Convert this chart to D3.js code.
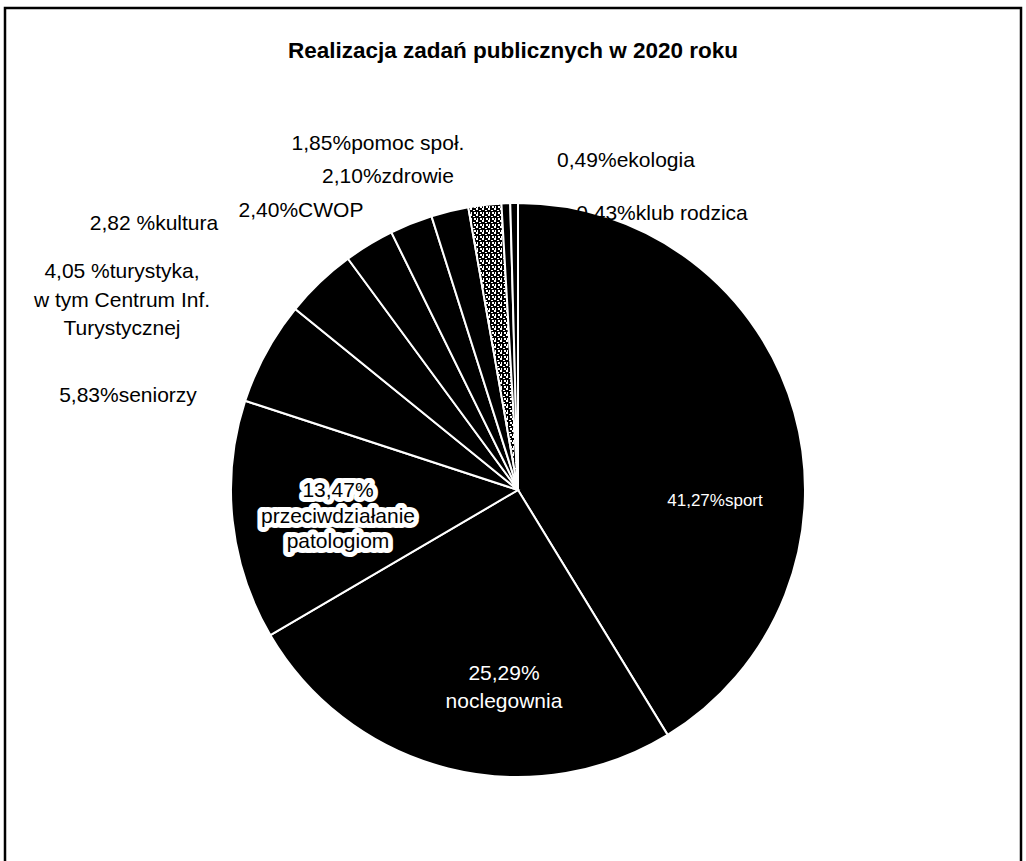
<!DOCTYPE html>
<html><head><meta charset="utf-8">
<script src="https://cdn.jsdelivr.net/npm/d3@7"></script>
<style>body{margin:0;background:#fff}svg{display:block}</style>
</head><body>
<svg id="c" width="1026" height="861"></svg>
<script>
const title = "Realizacja zadań publicznych w 2020 roku";
const categories = ["sport","noclegownia","przeciwdziałanie patologiom","seniorzy","turystyka, w tym Centrum Inf. Turystycznej","kultura","CWOP","zdrowie","pomoc społ.","ekologia","klub rodzica"];
const values = [41.27,25.29,13.47,5.83,4.05,2.82,2.40,2.10,1.85,0.49,0.43];
const labelLines = [
  ["41,27%sport"],
  ["25,29%","noclegownia"],
  ["13,47%","przeciwdziałanie","patologiom"],
  ["5,83%seniorzy"],
  ["4,05 %turystyka,","w tym Centrum Inf.","Turystycznej"],
  ["2,82 %kultura"],
  ["2,40%CWOP"],
  ["2,10%zdrowie"],
  ["1,85%pomoc społ."],
  ["0,49%ekologia"],
  ["0,43%klub rodzica"]
];
// label anchor positions (layout), and style
const labelPos = [[715,506],[504,680],[338,497],[128,402],[122,278],[154,230],[301,217],[388,183],[378,150],[626,167],[662,220]];
const inside = [true,true,true,false,false,false,false,false,false,false,false];
const labelSize = [17,21,21,21,21,21,21,21,21,21,21];

const svg = d3.select("#c");
const W=1026,H=861, cx=518, cy=490, R=287;
const font = "'Liberation Sans', Arial, sans-serif";

svg.append("rect").attr("x",5).attr("y",8).attr("width",1016).attr("height",900)
  .attr("fill","#fff").attr("stroke","#000").attr("stroke-width",2.5);

const defs = svg.append("defs");
const pat = defs.append("pattern").attr("id","speck").attr("patternUnits","userSpaceOnUse").attr("width",6).attr("height",6);
pat.append("rect").attr("width",6).attr("height",6).attr("fill","#000");
[[0,0,2,2],[3,2,2,1],[1,4,1,2],[4,4,2,2]].forEach(p=>pat.append("rect").attr("x",p[0]).attr("y",p[1]).attr("width",p[2]).attr("height",p[3]).attr("fill","#fff"));

svg.append("text").attr("x",513).attr("y",58).attr("text-anchor","middle")
  .attr("font-family",font).attr("font-weight","bold").attr("font-size",22.5).text(title);

const pie = d3.pie().sort(null).value(d=>d).startAngle(0).endAngle(2*Math.PI);
const arc = d3.arc().innerRadius(0).outerRadius(R);
const g = svg.append("g").attr("transform",`translate(${cx},${cy})`);
g.selectAll("path").data(pie(values)).join("path")
  .attr("d",arc)
  .attr("fill",(d,i)=> i===8 ? "url(#speck)" : "#000")
  .attr("stroke","#fff").attr("stroke-width",2);

labelLines.forEach((lines,i)=>{
  const [x,y] = labelPos[i];
  const t = svg.append("text").attr("x",x).attr("y",y).attr("text-anchor","middle")
    .attr("font-family",font).attr("font-size", labelSize[i]);
  if(i===2){ t.attr("fill","#000").attr("stroke","#fff").attr("stroke-width",10).attr("paint-order","stroke").attr("stroke-linejoin","round"); }
  else if(inside[i]){ t.attr("fill","#fff"); }
  else t.attr("fill","#000");
  const lh = i===4 ? 28.5 : (i===1 ? 28 : 25.5);
  lines.forEach((s,k)=> t.append("tspan").attr("x",x).attr("dy", k===0?0:lh).text(s));
});
</script>
</body></html>
